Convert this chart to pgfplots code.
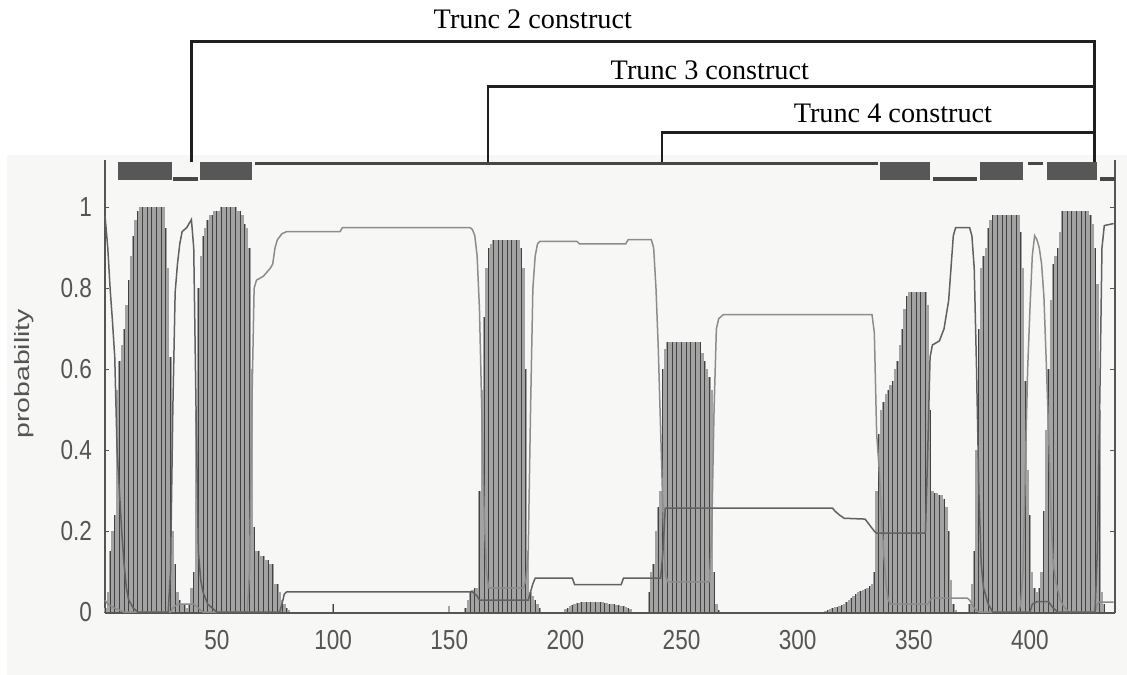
\documentclass[border=0pt]{standalone}
\usepackage{pgfplots}
\pgfplotsset{compat=1.18}
\usepackage{pgfplotstable}
\usepackage{fontspec}
\setmainfont{Liberation Serif}
\newfontfamily\axfont{Liberation Sans}[FakeStretch=0.82]
\newfontfamily\ylabfont{Liberation Sans}[FakeStretch=1.37]
\definecolor{paper}{RGB}{247,247,245}
\definecolor{axgray}{RGB}{85,85,85}

% per-residue transmembrane helix probability
\pgfplotstableread{
res tm
2 0.01
3 0.05
4 0.15
5 0.20
6 0.24
7 0.55
8 0.62
9 0.66
10 0.70
11 0.76
12 0.82
13 0.88
14 0.93
15 0.97
16 0.99
17 1.00
18 1.00
19 1.00
20 1.00
21 1.00
22 1.00
23 1.00
24 1.00
25 1.00
26 1.00
27 1.00
28 0.95
29 0.85
30 0.63
31 0.20
32 0.12
33 0.05
34 0.03
35 0.02
36 0.02
37 0.01
38 0.02
39 0.06
40 0.10
41 0.50
42 0.80
43 0.88
44 0.93
45 0.95
46 0.97
47 0.98
48 0.98
49 0.99
50 0.99
51 0.99
52 1.00
53 1.00
54 1.00
55 1.00
56 1.00
57 1.00
58 1.00
59 0.99
60 0.99
61 0.98
62 0.96
63 0.95
64 0.90
65 0.60
66 0.21
67 0.15
68 0.15
69 0.14
70 0.14
71 0.13
72 0.13
73 0.12
74 0.12
75 0.07
76 0.07
77 0.05
78 0.03
79 0.02
80 0.01
81 0.005
100 0.02
150 0.015
157 0.01
158 0.03
159 0.05
160 0.055
161 0.06
162 0.06
163 0.30
164 0.55
165 0.73
166 0.85
167 0.90
168 0.91
169 0.92
170 0.92
171 0.92
172 0.92
173 0.92
174 0.92
175 0.92
176 0.92
177 0.92
178 0.92
179 0.92
180 0.92
181 0.90
182 0.85
183 0.60
184 0.15
185 0.05
186 0.04
187 0.03
188 0.02
189 0.01
200 0.008
201 0.010
202 0.015
203 0.018
204 0.020
205 0.022
206 0.023
207 0.024
208 0.025
209 0.025
210 0.025
211 0.025
212 0.025
213 0.025
214 0.025
215 0.024
216 0.024
217 0.023
218 0.022
219 0.021
220 0.020
221 0.019
222 0.018
223 0.017
224 0.016
225 0.015
226 0.012
227 0.010
228 0.008
236 0.05
237 0.10
238 0.12
239 0.20
240 0.26
241 0.30
242 0.60
243 0.65
244 0.668
245 0.668
246 0.668
247 0.668
248 0.668
249 0.668
250 0.668
251 0.668
252 0.668
253 0.668
254 0.668
255 0.668
256 0.668
257 0.668
258 0.668
259 0.64
260 0.62
261 0.60
262 0.58
263 0.55
264 0.10
265 0.02
266 0.005
312 0.003
313 0.005
314 0.008
315 0.010
316 0.012
317 0.014
318 0.016
319 0.018
320 0.020
321 0.025
322 0.030
323 0.035
324 0.040
325 0.045
326 0.050
327 0.052
328 0.055
329 0.058
330 0.060
331 0.065
332 0.070
333 0.10
334 0.30
335 0.44
336 0.50
337 0.52
338 0.54
339 0.55
340 0.56
341 0.57
342 0.60
343 0.62
344 0.66
345 0.70
346 0.75
347 0.78
348 0.79
349 0.79
350 0.79
351 0.79
352 0.79
353 0.79
354 0.79
355 0.79
356 0.76
357 0.50
358 0.30
359 0.295
360 0.295
361 0.29
362 0.29
363 0.28
364 0.26
365 0.20
366 0.08
367 0.02
368 0.005
374 0.02
375 0.07
376 0.15
377 0.40
378 0.70
379 0.85
380 0.88
381 0.90
382 0.95
383 0.97
384 0.98
385 0.98
386 0.98
387 0.98
388 0.98
389 0.98
390 0.98
391 0.98
392 0.98
393 0.98
394 0.98
395 0.98
396 0.94
397 0.85
398 0.57
399 0.35
400 0.24
401 0.10
402 0.06
403 0.05
404 0.06
405 0.10
406 0.25
407 0.45
408 0.60
409 0.77
410 0.86
411 0.88
412 0.90
413 0.94
414 0.99
415 0.99
416 0.99
417 0.99
418 0.99
419 0.99
420 0.99
421 0.99
422 0.99
423 0.99
424 0.99
425 0.99
426 0.98
427 0.96
428 0.90
429 0.81
430 0.50
431 0.05
432 0.02
}\tmtable

\begin{document}
\begin{tikzpicture}
\useasboundingbox (-42pt,-24.8pt) rectangle (408.8pt,245.2pt);
\fill[paper] (-39.2pt,-24.8pt) rectangle (408.8pt,183.2pt);
\begin{axis}[
  at={(0pt,0pt)}, anchor=south west,
  scale only axis, width=404pt, height=181.2pt,
  xmin=1.8, xmax=436.6, ymin=-0.002, ymax=1.117,
  axis x line=bottom, axis y line=box,
  axis line style={axgray, line width=0.6pt, -},
  every outer x axis line/.append style={-, axgray, line width=0.6pt},
  every outer y axis line/.append style={-, axgray, line width=0.6pt},
  xtick={50,100,...,400}, ytick={0,0.2,0.4,0.6,0.8,1},
  x tick style={draw=none},
  y tick style={axgray, line width=0.5pt},
  tick align=inside, major tick length=1.8pt,
  /pgf/number format/assume math mode=true,
  tick label style={font=\axfont\fontsize{11}{12}\selectfont, text=axgray},
  xticklabel style={yshift=-3.4pt},
  yticklabel style={xshift=-1.7pt},
  ylabel={probability},
  ylabel style={font=\ylabfont\fontsize{8.3}{10}\selectfont, text=axgray,
    at={(axis description cs:-0.08,0.528)}, anchor=center},
  clip=false,
]
% helix probability: grey comb with darker stripes
\addplot[ycomb, black!36, line width=0.95pt, forget plot] table[x=res, y=tm] {\tmtable};
\addplot[ycomb, black!74, line width=0.4pt, each nth point=2, forget plot] table[x=res, y=tm] {\tmtable};

% outside probability
\addplot[black!45, line width=0.6pt] coordinates {
(1.8,0.03) (3,0.02) (6,0.01) (10,0.0) (30,0.0) (31,0.01) (33,0.02) (40,0.02) (42,0.01) (44,0.0)
(63,0.0) (64,0.1) (65,0.5) (66,0.8) (67,0.82) (70,0.83) (73,0.85) (74,0.86) (75,0.9) (76,0.92)
(78,0.935) (80,0.94) (103,0.94) (104,0.95) (159,0.95) (160,0.945) (161,0.93) (162,0.88) (163,0.75)
(164,0.5) (165,0.25) (166,0.1) (167,0.06) (182,0.06) (183,0.08) (184,0.15) (185,0.5) (186,0.8)
(187,0.88) (188,0.91) (189,0.916) (205,0.916) (206,0.91) (226,0.91) (227,0.92) (237,0.92) (238,0.9)
(239,0.8) (240,0.65) (241,0.45) (242,0.25) (243,0.1) (244,0.075) (262,0.075) (263,0.2) (264,0.5)
(265,0.7) (266,0.725) (268,0.735) (332,0.735) (333,0.69) (334,0.44) (335,0.36) (336,0.25) (337,0.15)
(338,0.07) (339,0.03) (340,0.02) (356,0.02) (357,0.03) (358,0.035) (373,0.035) (374,0.03) (375,0.02)
(376,0.01) (378,0.0) (395,0.0) (396,0.02) (397,0.1) (398,0.35) (399,0.6) (400,0.75) (401,0.88)
(402,0.93) (403,0.92) (404,0.9) (405,0.86) (406,0.78) (407,0.62) (408,0.45) (409,0.25) (410,0.12)
(411,0.08) (413,0.03) (415,0.01) (417,0.0) (428,0.0) (429,0.02) (430,0.025) (436,0.025)
};
% inside probability
\addplot[black!62, line width=0.6pt] coordinates {
(1.8,0.98) (3,0.9) (4,0.8) (5,0.72) (6,0.63) (7,0.4) (8,0.3) (9,0.2) (10,0.12) (11,0.06) (12,0.03)
(14,0.01) (16,0.0) (29,0.0) (30,0.1) (31,0.5) (32,0.79) (33,0.86) (34,0.91) (35,0.94) (37,0.95)
(39,0.97) (40,0.9) (41,0.5) (42,0.15) (43,0.08) (44,0.05) (46,0.02) (48,0.01) (50,0.0) (77,0.0)
(78,0.02) (79,0.045) (80,0.05) (160,0.05) (162,0.04) (163,0.03) (184,0.03) (185,0.05) (186,0.07)
(187,0.084) (203,0.084) (204,0.068) (224,0.068) (225,0.084) (241,0.084) (242,0.15) (243,0.257)
(315,0.257) (316,0.25) (318,0.24) (320,0.232) (329,0.23) (331,0.215) (333,0.2) (334,0.195)
(355,0.195) (356,0.4) (357,0.63) (358,0.66) (361,0.67) (363,0.7) (365,0.77) (366,0.85) (367,0.93)
(368,0.95) (374,0.95) (375,0.93) (376,0.85) (377,0.6) (378,0.3) (379,0.12) (380,0.06) (382,0.02)
(384,0.0) (400,0.0) (401,0.02) (403,0.026) (408,0.026) (410,0.01) (412,0.0) (428,0.0) (429,0.15)
(430,0.5) (431,0.9) (432,0.955) (436,0.96)
};

% predicted topology track: helices, inside and outside segments
\addplot[black!66, line width=7.2pt, forget plot] coordinates {(7.4,1.090) (30.6,1.090)};
\addplot[black!66, line width=7.2pt, forget plot] coordinates {(42.7,1.090) (65.0,1.090)};
\addplot[black!66, line width=7.2pt, forget plot] coordinates {(335.4,1.090) (356.9,1.090)};
\addplot[black!66, line width=7.2pt, forget plot] coordinates {(378.4,1.090) (396.9,1.090)};
\addplot[black!66, line width=7.2pt, forget plot] coordinates {(407.3,1.090) (428.8,1.090)};
\addplot[black!72, line width=1.2pt, forget plot] coordinates {(66.3,1.1086) (334.5,1.1086)};
\addplot[black!72, line width=1.2pt, forget plot] coordinates {(399.1,1.1086) (405.6,1.1086)};
\addplot[black!72, line width=1.4pt, forget plot] coordinates {(31.0,1.0704) (41.8,1.0704)};
\addplot[black!72, line width=1.4pt, forget plot] coordinates {(358.2,1.0704) (377.1,1.0704)};
\addplot[black!72, line width=1.4pt, forget plot] coordinates {(430.2,1.0704) (436.6,1.0704)};

% construct brackets
\draw[black!88, line width=1.1pt] (axis cs:39.2,1.112) |- (axis cs:427.9,1.409) -- (axis cs:427.9,1.112);
\draw[black!88, line width=1.1pt] (axis cs:166.7,1.112) |- (axis cs:427.9,1.298);
\draw[black!88, line width=1.1pt] (axis cs:241.6,1.112) |- (axis cs:427.9,1.184);
\node[anchor=base, font=\fontsize{11.3}{13}\selectfont] at (axis cs:186.0,1.443) {Trunc 2 construct};
\node[anchor=base, font=\fontsize{11.3}{13}\selectfont] at (axis cs:262.2,1.315) {Trunc 3 construct};
\node[anchor=base, font=\fontsize{11.3}{13}\selectfont] at (axis cs:341.0,1.209) {Trunc 4 construct};
\end{axis}
\end{tikzpicture}
\end{document}
